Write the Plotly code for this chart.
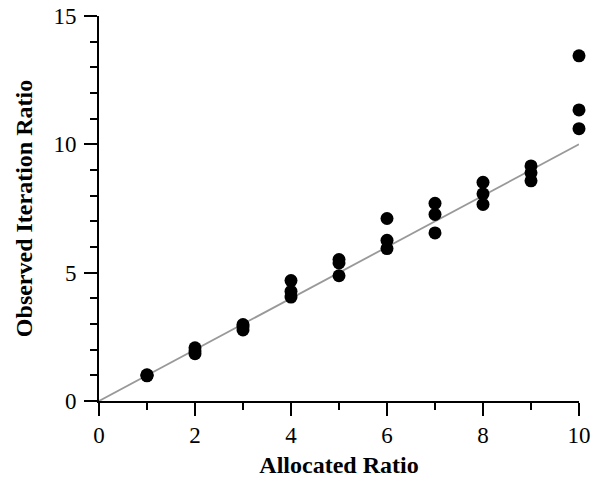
import plotly.graph_objects as go

allocated = [1, 1, 1, 2, 2, 2, 3, 3, 3, 4, 4, 4, 5, 5, 5, 6, 6, 6, 7, 7, 7, 8, 8, 8, 9, 9, 9, 10, 10, 10]
observed = [1.0, 1.02, 0.98, 2.07, 1.95, 1.84, 2.98, 2.88, 2.77, 4.69, 4.27, 4.05,
            5.51, 5.38, 4.88, 7.11, 6.26, 5.94, 7.70, 7.27, 6.55, 8.52, 8.07, 7.66,
            9.16, 8.89, 8.58, 13.45, 11.34, 10.61]
ideal_x = [0, 10]
ideal_y = [0, 10]

font = "Liberation Serif, Times New Roman, serif"

fig = go.Figure()
fig.add_trace(go.Scatter(x=ideal_x, y=ideal_y, mode="lines",
                         line=dict(color="#999999", width=1.8), showlegend=False,
                         hoverinfo="skip"))
fig.add_trace(go.Scatter(x=allocated, y=observed, mode="markers",
                         marker=dict(color="black", size=13), showlegend=False))

axis_common = dict(
    showgrid=False, zeroline=False, showline=True, linecolor="black", linewidth=1.6,
    ticks="outside", ticklen=13, tickwidth=1.6, tickcolor="black", automargin=False,
    tickfont=dict(family=font, size=23, color="black"),
)

fig.update_xaxes(range=[0, 10], tickvals=[0, 2, 4, 6, 8, 10],
                 minor=dict(ticks="outside", ticklen=7, tickwidth=1.6, tickcolor="black", dtick=1, tick0=0),
                 title=dict(text="<b>Allocated Ratio</b>", font=dict(family=font, size=24, color="black"), standoff=10),
                 **axis_common)
fig.update_yaxes(range=[0, 15], tickvals=[0, 5, 10, 15], ticklabelstandoff=3,
                 minor=dict(ticks="outside", ticklen=7, tickwidth=1.6, tickcolor="black", dtick=1, tick0=0),
                 title=dict(text="<b>Observed Iteration Ratio</b>", font=dict(family=font, size=24, color="black"), standoff=14),
                 **axis_common)

fig.update_layout(width=600, height=478, margin=dict(l=99, r=21, t=16, b=77),
                  plot_bgcolor="white", paper_bgcolor="white")
fig.update_traces(cliponaxis=False)

fig.write_html("out.html", config={"displayModeBar": False},
               post_script="document.body.style.margin='0';")
